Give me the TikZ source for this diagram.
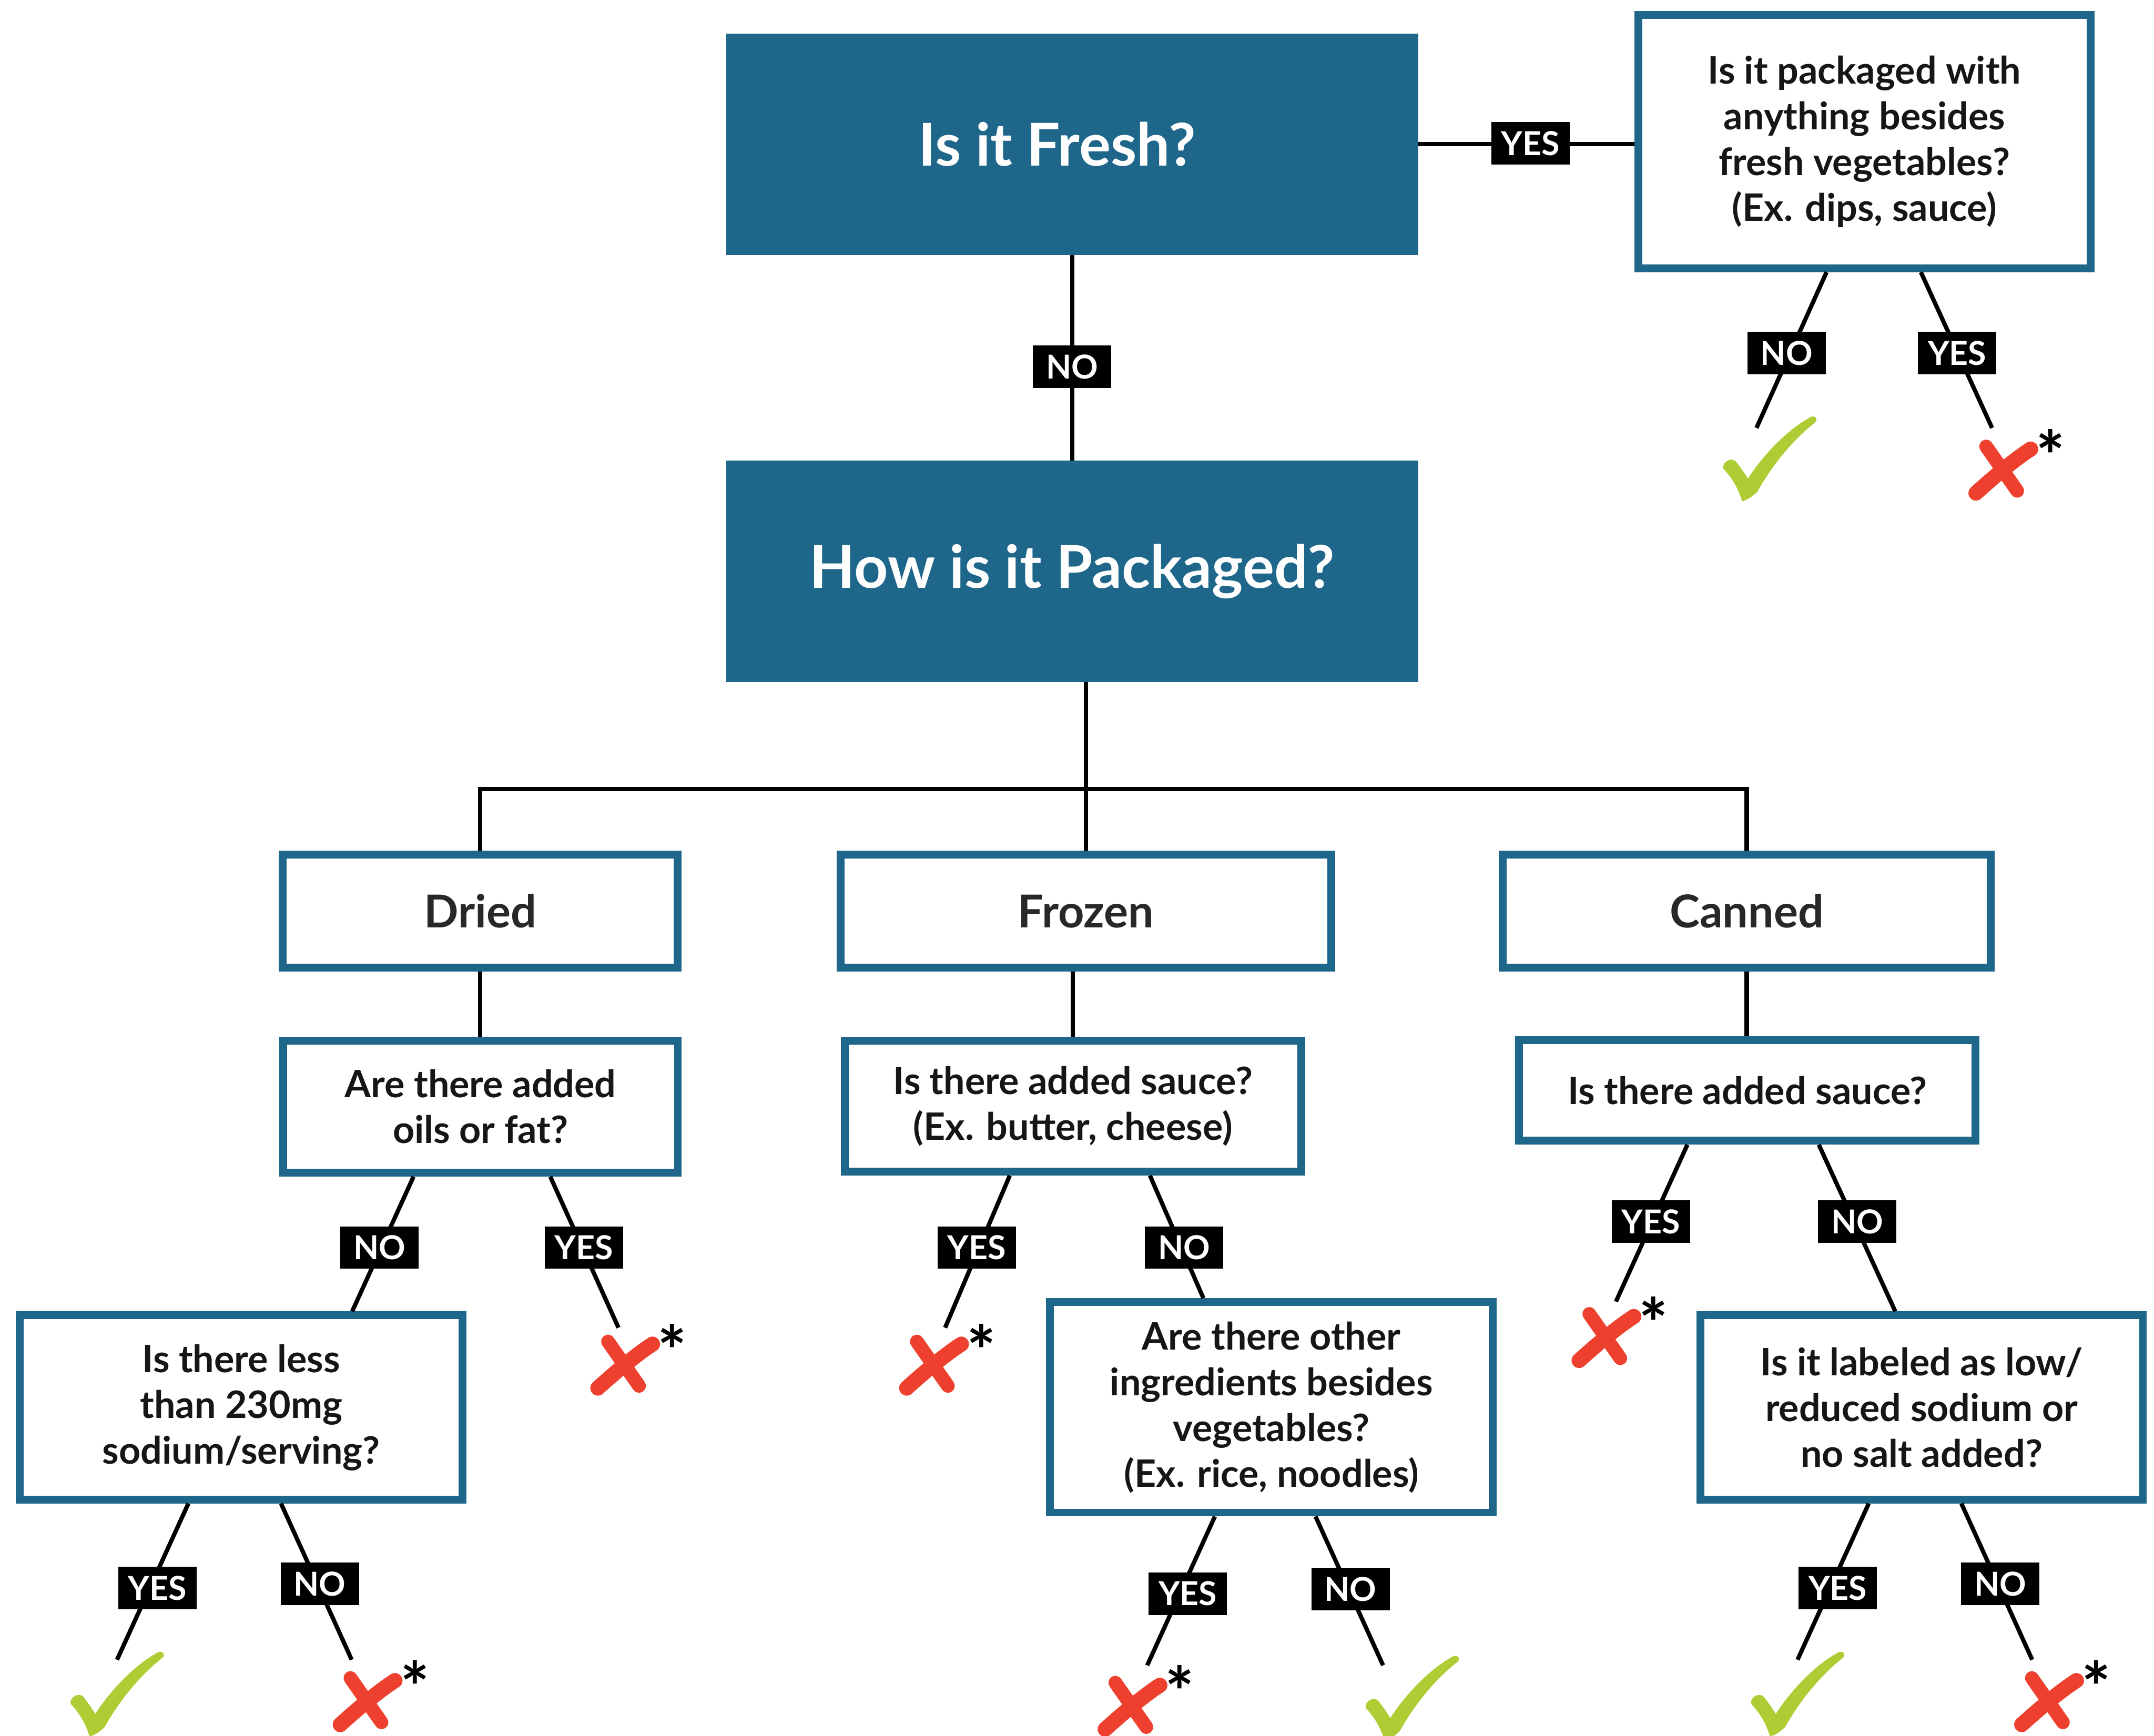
\documentclass[tikz,border=0pt]{standalone}
\usepackage{fontspec}
\setmainfont{Lato}
\usetikzlibrary{calc}

\definecolor{panelblue}{RGB}{31,103,138}
\definecolor{passgreen}{RGB}{174,205,52}
\definecolor{failred}{RGB}{237,64,46}
\definecolor{inktext}{RGB}{22,22,22}
\definecolor{cattext}{RGB}{40,40,40}

\tikzset{
  link/.style={draw=black, line width=3.1pt},
  dims/.style 2 args={minimum width=#1pt-5.7pt, minimum height=#2pt-5.7pt},
  headbox/.style={fill=panelblue, text=white, inner sep=0pt, outer sep=0pt,
    font=\fontsize{43}{50}\selectfont\bfseries},
  framebox/.style={draw=panelblue, line width=5.7pt, fill=white, text=inktext,
    inner sep=0pt, align=center},
  catbox/.style={framebox, text=cattext, font=\fontsize{33}{38}\selectfont\bfseries},
  qbox/.style={framebox, font=\fontsize{27.5}{33.3}\selectfont\bfseries},
  answer/.style={fill=black, text=white, inner sep=0pt, minimum width=57pt,
    minimum height=31pt, font=\fontsize{24}{24}\selectfont\bfseries},
  footmark/.style={text=black, inner sep=0pt, anchor=base,
    font=\fontsize{50}{50}\selectfont\bfseries},
  % green tick, origin at its bottom point
  passmark/.pic={
    \fill[passgreen] (0,0) .. controls (-3,-10) and (-8,-18) .. (-13.5,-23.5)
      .. controls (-15.5,-27.5) and (-9,-32.5) .. (-5,-29.5)
      .. controls (-2,-26) and (2,-20) .. (4.2,-16.6)
      .. controls (14,-32) and (32,-52) .. (50,-61.5)
      .. controls (53,-63) and (56,-59.5) .. (52.5,-57)
      .. controls (36,-44) and (21,-25) .. (11,-7)
      .. controls (7,-3) and (3,-1) .. (0,0) -- cycle;
  },
  % red brush cross, origin at the crossing
  failmark/.pic={
    \draw[failred, line width=10pt, line cap=round] (-11.6,-16.5) -- (11,15.8);
    \draw[failred, line width=11pt, line cap=round]
      (20.8,-14.6) .. controls (12,-9) and (-2,2) .. (-19,17.4);
  }
}

\begin{document}
\begin{tikzpicture}[x=1pt, y=-1pt]
\useasboundingbox (0,0) rectangle (1568,1264);

% ---- boxes ----
\node[headbox, minimum width=504pt, minimum height=161pt] (fresh) at (780.5,105)
  {\hspace*{-22pt}Is it Fresh?};
\node[headbox, minimum width=504pt, minimum height=161pt] (how) at (780.5,416) {How is it Packaged?};
\node[qbox, dims={335}{190}] (pack) at (1357.2,103.2)
  {Is it packaged with\\anything besides\\fresh vegetables?\\(Ex. dips, sauce)};

\node[catbox, dims={293}{88}] (dried) at (349.5,663.5) {Dried};
\node[catbox, dims={363}{88}] (frozen) at (790.5,663.5) {Frozen};
\node[catbox, dims={361}{88}] (canned) at (1271.5,663.5) {Canned};

\node[qbox, dims={293}{102}] (oils) at (349.8,805.8) {Are there added\\oils or fat?};
\node[qbox, dims={338}{101}] (fsauce) at (781,805.5) {Is there added sauce?\\(Ex. butter, cheese)};
\node[qbox, dims={338}{79}] (csauce) at (1272,794) {Is there added sauce?};

\node[qbox, dims={328}{140}] (sodium) at (175.6,1024.8) {Is there less\\than 230mg\\sodium/serving?};
\node[qbox, dims={328}{159}] (other) at (925.5,1024.7)
  {Are there other\\ingredients besides\\vegetables?\\(Ex. rice, noodles)};
\node[qbox, dims={328}{140}] (low) at (1398.8,1024.8)
  {Is it labeled as low/\\reduced sodium or\\no salt added?};

% ---- free ends of the answer branches ----
\coordinate (pNo) at (1278.6,311.6);
\coordinate (pYes) at (1450.1,311.6);
\coordinate (oYes) at (450.2,966.7);
\coordinate (fYes) at (688,966.7);
\coordinate (cYes) at (1176.3,947.7);
\coordinate (sYes) at (85.2,1208.5);
\coordinate (sNo) at (256,1208.5);
\coordinate (tYes) at (835.1,1212.6);
\coordinate (tNo) at (1006.8,1212.6);
\coordinate (lYes) at (1308.5,1208.5);
\coordinate (lNo) at (1479.3,1208.5);
\coordinate (bus) at (790.5,574.5);

% ---- tree connectors ----
\draw[link] (fresh.south) -- (how.north);
\draw[link] (fresh.east) -- (fresh.east -| pack.west);
\draw[link] (how.south -| frozen.north) -- (frozen.north);
\draw[link] (dried.north) |- (bus) -| (canned.north);
\draw[link] (dried.south) -- (dried.south |- oils.north);
\draw[link] (frozen.south -| fsauce.north) -- (fsauce.north);
\draw[link] (canned.south) -- (canned.south |- csauce.north);

% ---- answer branches ----
\draw[link] ($(pack.south west)!0.4176!(pack.south east)$) -- (pNo);
\draw[link] ($(pack.south west)!0.6227!(pack.south east)$) -- (pYes);
\draw[link] ($(oils.south west)!0.3334!(oils.south east)$) -- ($(sodium.north west)!0.7463!(sodium.north east)$);
\draw[link] ($(oils.south west)!0.6734!(oils.south east)$) -- (oYes);
\draw[link] ($(fsauce.south west)!0.364!(fsauce.south east)$) -- (fYes);
\draw[link] ($(fsauce.south west)!0.666!(fsauce.south east)$) -- ($(other.north west)!0.349!(other.north east)$);
\draw[link] ($(csauce.south west)!0.3707!(csauce.south east)$) -- (cYes);
\draw[link] ($(csauce.south west)!0.6538!(csauce.south east)$) -- ($(low.north west)!0.4415!(low.north east)$);
\draw[link] ($(sodium.south west)!0.3826!(sodium.south east)$) -- (sYes);
\draw[link] ($(sodium.south west)!0.5884!(sodium.south east)$) -- (sNo);
\draw[link] ($(other.south west)!0.3745!(other.south east)$) -- (tYes);
\draw[link] ($(other.south west)!0.598!(other.south east)$) -- (tNo);
\draw[link] ($(low.south west)!0.3826!(low.south east)$) -- (lYes);
\draw[link] ($(low.south west)!0.5884!(low.south east)$) -- (lNo);

% ---- answer tags ----
\node[answer] (fy) at (1114,104.5) {YES};
\node[answer] (fn) at (780.5,267) {NO};
\node[answer] (pn) at (1300.5,257) {NO};
\node[answer] (py) at (1424.7,257) {YES};
\node[answer] (on) at (276.3,908.4) {NO};
\node[answer] (oy) at (425.1,908.4) {YES};
\node[answer] (fsy) at (711,908.4) {YES};
\node[answer] (fsn) at (862,908.4) {NO};
\node[answer] (cy) at (1201.7,889.4) {YES};
\node[answer] (cn) at (1351.9,889.4) {NO};
\node[answer] (sy) at (114.5,1156.3) {YES};
\node[answer] (sn) at (232.8,1153.3) {NO};
\node[answer] (ty) at (864.6,1160.4) {YES};
\node[answer] (tn) at (983.1,1157) {NO};
\node[answer] (ly) at (1337.8,1156.3) {YES};
\node[answer] (ln) at (1456.1,1153.3) {NO};

% ---- outcomes ----
\pic at (1268.2,365.1) {passmark};
\pic at (65.2,1264.5) {passmark};
\pic at (1007.9,1267.5) {passmark};
\pic at (1288.5,1264.5) {passmark};

\pic at (1457.4,341.6) {failmark};
\pic at (454.2,993.3) {failmark};
\pic at (679,993.3) {failmark};
\pic at (266.7,1238.3) {failmark};
\pic at (823.5,1241.7) {failmark};
\pic at (1168.5,973.2) {failmark};
\pic at (1490.7,1238.3) {failmark};

\node[footmark] (ast1) at (1492.7,350.3) {*};
\node[footmark] (ast2) at (489.5,1002) {*};
\node[footmark] (ast3) at (714.3,1002) {*};
\node[footmark] (ast4) at (302,1247) {*};
\node[footmark] (ast5) at (858.8,1250.4) {*};
\node[footmark] (ast6) at (1203.8,981.9) {*};
\node[footmark] (ast7) at (1526,1247) {*};
\end{tikzpicture}
\end{document}
